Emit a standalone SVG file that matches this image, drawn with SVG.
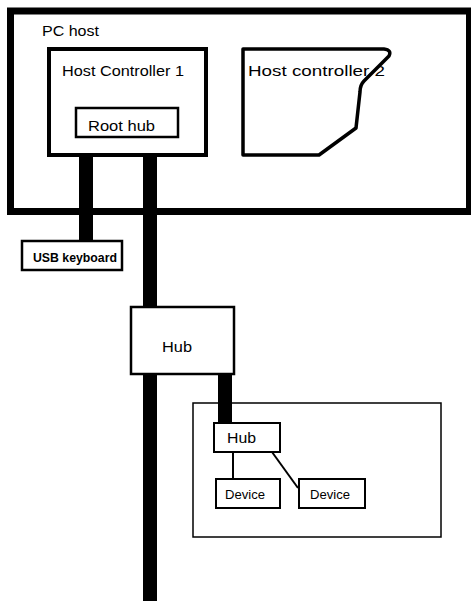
<svg xmlns="http://www.w3.org/2000/svg" width="471" height="601" viewBox="0 0 471 601">
<style>
text{font-family:"Liberation Sans",Arial,sans-serif;fill:#000}
.t15{font-size:15px}
.t12{font-size:12px}
.box{fill:#fff;stroke:#000}
.cable{stroke:#000;stroke-width:14;fill:none}
.thin{stroke:#000;stroke-width:2;fill:none}
</style>
<rect width="471" height="601" fill="#fff"/>
<g id="pc-host">
<rect x="10.5" y="11" width="459" height="200.5" fill="#fff" stroke="#000" stroke-width="7"/>
<text class="t15" x="42" y="36" textLength="57" lengthAdjust="spacingAndGlyphs">PC host</text>
</g>
<g id="connectors">
<line class="cable" x1="86" y1="157" x2="86" y2="241"/>
<line class="cable" x1="150" y1="157" x2="150" y2="307"/>
<line class="cable" x1="150" y1="374" x2="150" y2="601"/>
<line class="cable" x1="225" y1="374" x2="225" y2="423"/>
<line class="thin" x1="233" y1="452" x2="233" y2="478"/>
<line class="thin" x1="272" y1="452" x2="298" y2="488"/>
</g>
<g id="host-controller-1">
<rect class="box" x="49" y="49" width="157" height="106" stroke-width="4"/>
<text class="t15" x="62" y="76" textLength="122" lengthAdjust="spacingAndGlyphs">Host Controller 1</text>
</g>
<g id="root-hub">
<rect class="box" x="76" y="108" width="102" height="29" stroke-width="2.5"/>
<text class="t15" x="88" y="131" textLength="67" lengthAdjust="spacingAndGlyphs">Root hub</text>
</g>
<g id="host-controller-2">
<path d="M243,49 L384,49 Q392,50 389,56 L364,81 Q360,85 360,92 L356,128 L319,155 L243,155 Z" fill="#fff" stroke="#000" stroke-width="3.5" stroke-linejoin="round"/>
<text class="t15" x="248" y="76" textLength="137" lengthAdjust="spacingAndGlyphs">Host controller 2</text>
</g>
<g id="usb-keyboard">
<rect class="box" x="22" y="241" width="100" height="29" stroke-width="2.5"/>
<text class="t12" x="33" y="262" font-weight="bold" textLength="84" lengthAdjust="spacingAndGlyphs">USB keyboard</text>
</g>
<g id="hub">
<rect class="box" x="131" y="307" width="103" height="67" stroke-width="2.5"/>
<text class="t15" x="162" y="352" textLength="30" lengthAdjust="spacingAndGlyphs">Hub</text>
</g>
<g id="device-group">
<rect x="193" y="403" width="248" height="134" fill="none" stroke="#000" stroke-width="1.5"/>
</g>
<g id="hub-2">
<rect class="box" x="214" y="423" width="66" height="29" stroke-width="2"/>
<text class="t15" x="227" y="443" textLength="29" lengthAdjust="spacingAndGlyphs">Hub</text>
</g>
<g id="device-1">
<rect class="box" x="216" y="479" width="64" height="29" stroke-width="2"/>
<text class="t12" x="225" y="499" textLength="40" lengthAdjust="spacingAndGlyphs">Device</text>
</g>
<g id="device-2">
<rect class="box" x="299" y="479" width="66" height="29" stroke-width="2"/>
<text class="t12" x="310" y="499" textLength="40" lengthAdjust="spacingAndGlyphs">Device</text>
</g>
</svg>
